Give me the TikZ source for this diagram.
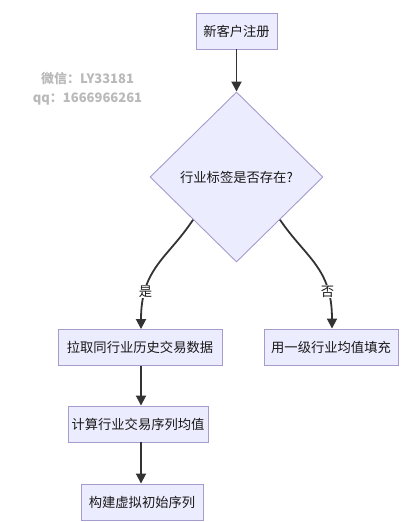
\documentclass[tikz,border=0pt]{standalone}
\usepackage{fontspec}
\newfontfamily\cjk{Noto Sans CJK SC}
\usetikzlibrary{shapes.geometric,arrows.meta}
\definecolor{boxfill}{RGB}{236,236,255}
\definecolor{boxline}{RGB}{165,155,205}
\definecolor{linecol}{RGB}{51,51,51}
\definecolor{wm}{RGB}{185,185,185}
\tikzset{
  box/.style={draw=boxline, fill=boxfill, line width=0.9pt, minimum height=36pt, inner sep=0pt, font=\cjk\fontsize{13.3}{15}\selectfont, text=black!90},
  dec/.style={diamond, draw=boxline, fill=boxfill, line width=0.9pt, minimum width=173pt, minimum height=170pt, inner sep=0pt, font=\cjk\fontsize{13.3}{15}\selectfont, text=black!90},
  conn/.style={draw=linecol, line width=1.8pt, -{Triangle[length=10pt,width=10pt]}},
  lbl/.style={fill=white, inner sep=1pt, font=\cjk\fontsize{13.3}{15}\selectfont, text=black!90},
  wmark/.style={font=\cjk\bfseries\fontsize{13}{14}\selectfont, text=wm, inner sep=0pt}
}
\begin{document}
\begin{tikzpicture}[x=1pt,y=-1pt]
\useasboundingbox (0,0) rectangle (417,522);
\node[box, minimum width=81pt] (a) at (236.5,31) {新客户注册};
\node[dec] (d) at (236.5,177) {行业标签是否存在?};
\node[box, minimum width=164pt] (b) at (140,347.5) {拉取同行业历史交易数据};
\node[box, minimum width=134pt] (c) at (331,347) {用一级行业均值填充};
\node[box, minimum width=140pt] (e) at (138,424) {计算行业交易序列均值};
\node[box, minimum width=122pt] (f) at (142,502) {构建虚拟初始序列};
\node[wmark] (w1) at (87.5,79) {微信：LY33181};
\node[wmark] (w2) at (87.5,99) {qq：1666966261};
\draw[conn] (a.south) -- (d.north);
\draw[conn] (d.south west) .. controls (168,258) and (141,268) .. node[lbl, pos=0.75] {是} (b.north -| 141,0);
\draw[conn] (d.south east) .. controls (306,258) and (332,268) .. node[lbl, pos=0.75] {否} (c.north -| 332,0);
\draw[conn] (b.south -| 141,0) -- (e.north -| 141,0);
\draw[conn] (e.south -| 141,0) -- (f.north -| 141,0);
\end{tikzpicture}
\end{document}
